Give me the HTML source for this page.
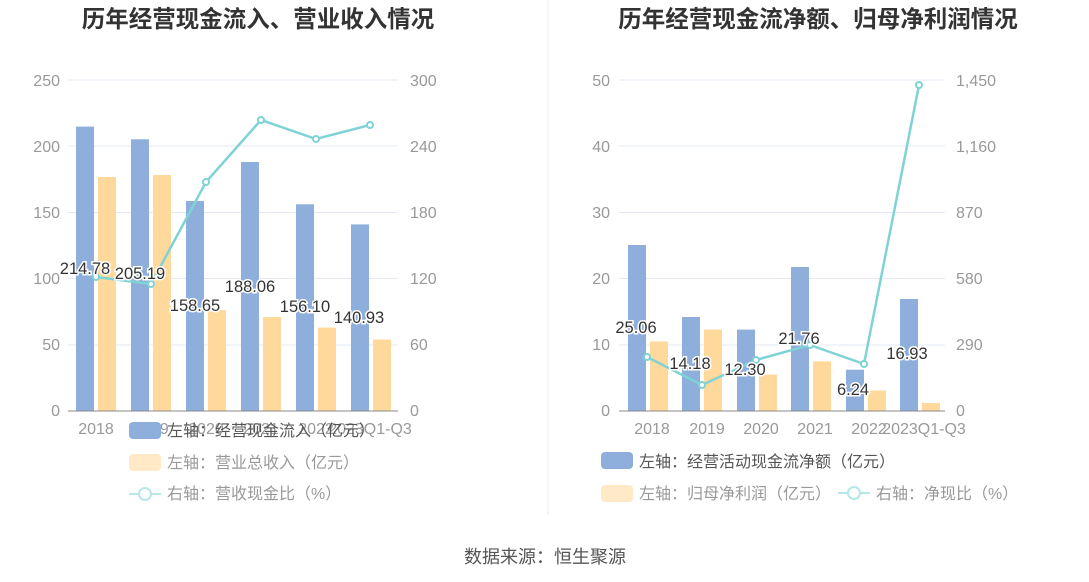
<!DOCTYPE html><html><head><meta charset="utf-8"><style>body{margin:0;background:#fff}svg{display:block}text{font-family:"Liberation Sans","Noto Sans CJK SC",sans-serif}</style></head><body>
<svg width="1089" height="582" viewBox="0 0 1089 582">
<text x="258" y="27" text-anchor="middle" font-size="23.5" font-weight="bold" fill="#333">历年经营现金流入、营业收入情况</text>
<text x="818" y="27" text-anchor="middle" font-size="23.5" font-weight="bold" fill="#333">历年经营现金流净额、归母净利润情况</text>
<line x1="548" y1="0" x2="548" y2="515" stroke="#eee"/>
<g stroke="#e3e8f3"><line x1="68" x2="398" y1="80" y2="80"/><line x1="68" x2="398" y1="146" y2="146"/><line x1="68" x2="398" y1="212.5" y2="212.5"/><line x1="68" x2="398" y1="278.5" y2="278.5"/><line x1="68" x2="398" y1="345" y2="345"/>
<line x1="619" x2="945" y1="80" y2="80"/><line x1="619" x2="945" y1="146" y2="146"/><line x1="619" x2="945" y1="212.5" y2="212.5"/><line x1="619" x2="945" y1="278.5" y2="278.5"/><line x1="619" x2="945" y1="345" y2="345"/></g>
<g font-size="16" fill="#999" text-anchor="end"><text x="60" y="86">250</text><text x="60" y="152">200</text><text x="60" y="218">150</text><text x="60" y="284">100</text><text x="60" y="350">50</text><text x="60" y="416">0</text>
<text x="610" y="86">50</text><text x="610" y="152">40</text><text x="610" y="218">30</text><text x="610" y="284">20</text><text x="610" y="350">10</text><text x="610" y="416">0</text></g>
<g font-size="16" fill="#999"><text x="410" y="86">300</text><text x="410" y="152">240</text><text x="410" y="218">180</text><text x="410" y="284">120</text><text x="410" y="350">60</text><text x="410" y="416">0</text>
<text x="956" y="86">1,450</text><text x="956" y="152">1,160</text><text x="956" y="218">870</text><text x="956" y="284">580</text><text x="956" y="350">290</text><text x="956" y="416">0</text></g>
<g fill="#8eaedb"><rect x="76" y="126.6" width="18" height="284.4"/><rect x="131" y="139.3" width="18" height="271.7"/><rect x="186" y="201" width="18" height="210"/><rect x="241" y="162" width="18" height="249"/><rect x="296" y="204.3" width="18" height="206.7"/><rect x="351" y="224.4" width="18" height="186.6"/>
<rect x="628" y="245" width="18" height="166"/><rect x="682" y="317" width="18" height="94"/><rect x="737" y="329.6" width="18" height="81.4"/><rect x="791" y="267" width="18" height="144"/><rect x="846" y="369.7" width="18" height="41.3"/><rect x="900" y="299" width="18" height="112"/></g>
<g fill="#ffd99c"><rect x="98" y="177" width="18" height="234"/><rect x="153" y="175" width="18" height="236"/><rect x="208" y="310" width="18" height="101"/><rect x="263" y="317" width="18" height="94"/><rect x="318" y="327.6" width="18" height="83.4"/><rect x="373" y="339.5" width="18" height="71.5"/>
<rect x="650" y="341.5" width="18" height="69.5"/><rect x="704" y="329.6" width="18" height="81.4"/><rect x="759" y="374.6" width="18" height="36.4"/><rect x="813" y="361.4" width="18" height="49.6"/><rect x="868" y="390.5" width="18" height="20.5"/><rect x="922" y="403" width="18" height="8"/></g>
<line x1="68" x2="398" y1="411" y2="411" stroke="#888"/><line x1="619" x2="945" y1="411" y2="411" stroke="#888"/>
<g stroke="#7fd3d6" stroke-width="2.5" fill="none"><polyline points="96,277 151,284 206,182 261,120 316,139 370,125"/><polyline points="647,357 702,385 756,360 810,345 864,364 919,85"/></g>
<g stroke="#7fd3d6" stroke-width="2" fill="#fff"><circle cx="96" cy="277" r="3"/><circle cx="151" cy="284" r="3"/><circle cx="206" cy="182" r="3"/><circle cx="261" cy="120" r="3"/><circle cx="316" cy="139" r="3"/><circle cx="370" cy="125" r="3"/><circle cx="647" cy="357" r="3"/><circle cx="702" cy="385" r="3"/><circle cx="756" cy="360" r="3"/><circle cx="810" cy="345" r="3"/><circle cx="864" cy="364" r="3"/><circle cx="919" cy="85" r="3"/></g>
<g font-size="16.5" fill="#333" text-anchor="middle" stroke="#fff" stroke-width="3" paint-order="stroke"><text x="85" y="274">214.78</text><text x="140" y="279">205.19</text><text x="195" y="311">158.65</text><text x="250" y="292">188.06</text><text x="305" y="312">156.10</text><text x="359" y="323">140.93</text>
<text x="636" y="333">25.06</text><text x="690" y="369">14.18</text><text x="745" y="375">12.30</text><text x="799" y="344">21.76</text><text x="853" y="395">6.24</text><text x="907" y="359">16.93</text></g>
<g font-size="16" fill="#999" text-anchor="middle"><text x="96" y="434">2018</text><text x="151" y="434">2019</text><text x="206" y="434">2020</text><text x="261" y="434">2021</text><text x="316" y="434">2022</text><text x="370" y="434">2023Q1-Q3</text>
<text x="652" y="434">2018</text><text x="707" y="434">2019</text><text x="761" y="434">2020</text><text x="815" y="434">2021</text><text x="869" y="434">2022</text><text x="924" y="434">2023Q1-Q3</text></g>
<rect x="129" y="422" width="32" height="17" rx="4" fill="#8eaedb"/><text x="167" y="436" font-size="16" fill="#555">左轴：经营现金流入（亿元）</text>
<rect x="129" y="454" width="32" height="17" rx="4" fill="#ffe9c6"/><text x="167" y="468" font-size="16" fill="#999">左轴：营业总收入（亿元）</text>
<line x1="129" x2="161" y1="494" y2="494" stroke="#b7e7e9" stroke-width="2"/><circle cx="145" cy="494" r="6" fill="#fff" stroke="#b7e7e9" stroke-width="2"/><text x="167" y="499" font-size="16" fill="#999">右轴：营收现金比（%）</text>
<rect x="601" y="452" width="32" height="17" rx="4" fill="#8eaedb"/><text x="639" y="467" font-size="16" fill="#555">左轴：经营活动现金流净额（亿元）</text>
<rect x="601" y="485" width="32" height="17" rx="4" fill="#ffe9c6"/><text x="639" y="499" font-size="16" fill="#999">左轴：归母净利润（亿元）</text>
<line x1="838" x2="870" y1="493" y2="493" stroke="#b7e7e9" stroke-width="2"/><circle cx="854" cy="493" r="6" fill="#fff" stroke="#b7e7e9" stroke-width="2"/><text x="876" y="499" font-size="16" fill="#999">右轴：净现比（%）</text>
<text x="545" y="563" text-anchor="middle" font-size="18" fill="#555">数据来源：恒生聚源</text>
</svg></body></html>
